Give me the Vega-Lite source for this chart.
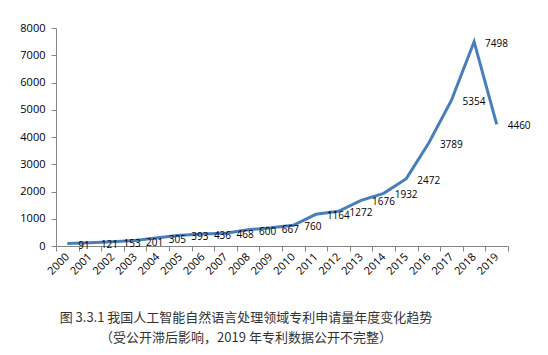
{
  "$schema": "https://vega.github.io/schema/vega-lite/v6.json",
  "autosize": "none",
  "width": 452,
  "height": 218,
  "padding": {"left": 56, "top": 28, "right": 40, "bottom": 109},
  "background": "white",
  "config": {"view": {"stroke": null}, "font": "Open Sans"},
  "title": {
    "text": ["图 3.3.1  我国人工智能自然语言处理领域专利申请量年度变化趋势", "（受公开滞后影响，2019 年专利数据公开不完整）"],
    "orient": "bottom",
    "anchor": "middle",
    "align": "center",
    "dx": -36,
    "offset": 36,
    "font": "Noto Sans CJK SC",
    "fontSize": 13,
    "fontWeight": "normal",
    "color": "#333333",
    "lineHeight": 20
  },
  "data": {
    "values": [
      {"year": "2000", "count": 91},
      {"year": "2001", "count": 121},
      {"year": "2002", "count": 153},
      {"year": "2003", "count": 201},
      {"year": "2004", "count": 305},
      {"year": "2005", "count": 393},
      {"year": "2006", "count": 436},
      {"year": "2007", "count": 468},
      {"year": "2008", "count": 600},
      {"year": "2009", "count": 667},
      {"year": "2010", "count": 760},
      {"year": "2011", "count": 1164},
      {"year": "2012", "count": 1272},
      {"year": "2013", "count": 1676},
      {"year": "2014", "count": 1932},
      {"year": "2015", "count": 2472},
      {"year": "2016", "count": 3789},
      {"year": "2017", "count": 5354},
      {"year": "2018", "count": 7498},
      {"year": "2019", "count": 4460}
    ]
  },
  "encoding": {
    "x": {
      "field": "year",
      "type": "ordinal",
      "scale": {"type": "band", "paddingInner": 0, "paddingOuter": 0},
      "axis": {
        "title": null,
        "labelAngle": -45,
        "labelAlign": "right",
        "labelBaseline": "middle",
        "labelFontSize": 11,
        "labelColor": "#000000",
        "labelPadding": 4,
        "tickBand": "extent",
        "tickSize": 5,
        "tickColor": "#868686",
        "domainColor": "#868686",
        "grid": false
      }
    },
    "y": {
      "field": "count",
      "type": "quantitative",
      "scale": {"domain": [0, 8000], "nice": false},
      "axis": {
        "title": null,
        "format": "d",
        "values": [0, 1000, 2000, 3000, 4000, 5000, 6000, 7000, 8000],
        "labelFontSize": 11,
        "labelColor": "#000000",
        "labelPadding": 6,
        "tickSize": 5,
        "tickColor": "#868686",
        "domainColor": "#868686",
        "grid": false
      }
    }
  },
  "layer": [
    {
      "mark": {"type": "line", "color": "#4A7EBB", "strokeWidth": 3}
    },
    {
      "mark": {"type": "text", "align": "left", "baseline": "middle", "dx": 11, "dy": 2, "fontSize": 10, "color": "#000000"},
      "encoding": {"text": {"field": "count", "type": "quantitative", "format": "d"}}
    }
  ]
}
